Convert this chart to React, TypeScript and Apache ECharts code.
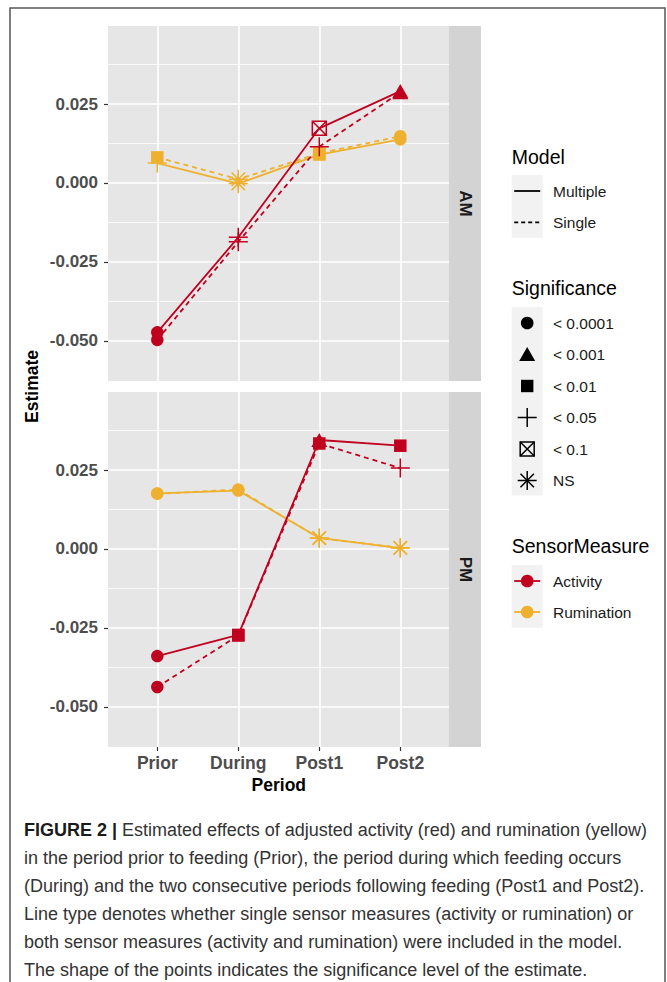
import React, { useEffect, useRef } from 'react';
import * as echarts from 'echarts';

// ---------- data ----------
const periods = ['Prior', 'During', 'Post1', 'Post2'];
const panels = ['AM', 'PM'];
const yTickValues = [-0.05, -0.025, 0, 0.025];
const sigLevels = ['< 0.0001', '< 0.001', '< 0.01', '< 0.05', '< 0.1', 'NS'];
const modelLevels = ['Multiple', 'Single'];
const measureLevels = ['Activity', 'Rumination'];

// AM panel
const amActivityMultiple = [-0.0473, -0.0172, 0.0173, 0.0291];
const amActivityMultipleSig = ['< 0.0001', '< 0.05', '< 0.1', '< 0.001'];
const amActivitySingle = [-0.0497, -0.0186, 0.0115, 0.0287];
const amActivitySingleSig = ['< 0.0001', '< 0.05', '< 0.05', '< 0.001'];
const amRuminationMultiple = [0.0063, -0.0002, 0.009, 0.0138];
const amRuminationMultipleSig = ['< 0.05', 'NS', '< 0.01', '< 0.0001'];
const amRuminationSingle = [0.0081, 0.0012, 0.0094, 0.0148];
const amRuminationSingleSig = ['< 0.01', 'NS', '< 0.01', '< 0.0001'];

// PM panel
const pmActivityMultiple = [-0.0339, -0.0272, 0.0345, 0.0327];
const pmActivityMultipleSig = ['< 0.0001', '< 0.01', '< 0.001', '< 0.01'];
const pmActivitySingle = [-0.0437, -0.0274, 0.0334, 0.0256];
const pmActivitySingleSig = ['< 0.0001', '< 0.01', '< 0.01', '< 0.05'];
const pmRuminationMultiple = [0.0176, 0.0185, 0.0035, 0.0003];
const pmRuminationMultipleSig = ['< 0.0001', '< 0.0001', 'NS', 'NS'];
const pmRuminationSingle = [0.0175, 0.0188, 0.0034, 0.0004];
const pmRuminationSingleSig = ['< 0.0001', '< 0.0001', 'NS', 'NS'];

const captionLines = [
  'Estimated effects of adjusted activity (red) and rumination (yellow)',
  'in the period prior to feeding (Prior), the period during which feeding occurs',
  '(During) and the two consecutive periods following feeding (Post1 and Post2).',
  'Line type denotes whether single sensor measures (activity or rumination) or',
  'both sensor measures (activity and rumination) were included in the model.',
  'The shape of the points indicates the significance level of the estimate.',
];
const captionLabel = 'FIGURE 2 |';

// ---------- styling / layout ----------
const RED = '#C0001F';
const YELLOW = '#EEB12F';
const PANEL_BG = '#E6E6E6';
const STRIP_BG = '#D3D3D3';
const FONT = '"Liberation Sans", Arial, sans-serif';
const Y_MIN = -0.0627;
const Y_MAX = 0.0497;
const PANEL_LEFT = 108;
const PANEL_W = 341;
const PANEL_H = 355;
const PANEL_TOPS = [26, 392];
const CAT_LEFT = 157.3;
const CAT_W = 243;
const STRIP_X = 449;
const STRIP_W = 32;

const SIG_STYLE: Record<string, { symbol: string; size: number | number[]; filled: boolean }> = {
  '< 0.0001': { symbol: 'circle', size: 12.5, filled: true },
  '< 0.001': { symbol: 'triangle', size: [16, 14], filled: true },
  '< 0.01': { symbol: 'rect', size: 12.5, filled: true },
  '< 0.05': { symbol: 'path://M0 9L18 9M9 0L9 18', size: 19, filled: false },
  '< 0.1': { symbol: 'path://M0 0L14 0L14 14L0 14ZM0 0L14 14M0 14L14 0', size: 14, filled: false },
  NS: {
    symbol: 'path://M0 9L18 9M9 0L9 18M2.64 2.64L15.36 15.36M2.64 15.36L15.36 2.64',
    size: 19,
    filled: false,
  },
};

function pointData(values: number[], sigs: string[], color: string) {
  return values.map((v, i) => {
    const s = SIG_STYLE[sigs[i]];
    return {
      value: [periods[i], v],
      symbol: s.symbol,
      symbolSize: s.size,
      itemStyle: s.filled
        ? { color, borderWidth: 0, opacity: 1 }
        : { color: 'rgba(0,0,0,0)', borderColor: color, borderWidth: 1.5, opacity: 1 },
    };
  });
}

type Trace = { panel: number; measure: string; model: string; values: number[]; sigs: string[] };
const traces: Trace[] = [
  { panel: 0, measure: 'Rumination', model: 'Single', values: amRuminationSingle, sigs: amRuminationSingleSig },
  { panel: 0, measure: 'Rumination', model: 'Multiple', values: amRuminationMultiple, sigs: amRuminationMultipleSig },
  { panel: 0, measure: 'Activity', model: 'Single', values: amActivitySingle, sigs: amActivitySingleSig },
  { panel: 0, measure: 'Activity', model: 'Multiple', values: amActivityMultiple, sigs: amActivityMultipleSig },
  { panel: 1, measure: 'Rumination', model: 'Single', values: pmRuminationSingle, sigs: pmRuminationSingleSig },
  { panel: 1, measure: 'Rumination', model: 'Multiple', values: pmRuminationMultiple, sigs: pmRuminationMultipleSig },
  { panel: 1, measure: 'Activity', model: 'Single', values: pmActivitySingle, sigs: pmActivitySingleSig },
  { panel: 1, measure: 'Activity', model: 'Multiple', values: pmActivityMultiple, sigs: pmActivityMultipleSig },
];

function buildOption() {
  const k = PANEL_H / (Y_MAX - Y_MIN);
  const grids: any[] = [];
  const xAxes: any[] = [];
  const yAxes: any[] = [];
  const hiddenValueX = (gi: number) => ({ type: 'value', gridIndex: gi, show: false, min: 0, max: 1 });

  PANEL_TOPS.forEach((top, p) => {
    const base = p * 4;
    // 0: background
    grids.push({ left: PANEL_LEFT, top, width: PANEL_W, height: PANEL_H, show: true, backgroundColor: PANEL_BG, borderWidth: 0 });
    xAxes.push(hiddenValueX(base));
    yAxes.push({ type: 'value', gridIndex: base, show: false, min: Y_MIN, max: Y_MAX });
    // 1: minor grid lines (0.0375, 0.0125, -0.0125, -0.0375)
    grids.push({ left: PANEL_LEFT, top: top + (Y_MAX - 0.0375) * k, width: PANEL_W, height: 0.075 * k, show: false });
    xAxes.push(hiddenValueX(base + 1));
    yAxes.push({
      type: 'value', gridIndex: base + 1, min: 0, max: 3, interval: 1,
      axisLine: { show: false }, axisTick: { show: false }, axisLabel: { show: false },
      splitLine: { show: true, showMinLine: true, showMaxLine: true, lineStyle: { color: '#FFFFFF', width: 0.8 } },
    });
    // 2: major grid lines + labels
    grids.push({ left: PANEL_LEFT, top: top + (Y_MAX - 0.025) * k, width: PANEL_W, height: 0.075 * k, show: false });
    xAxes.push(hiddenValueX(base + 2));
    yAxes.push({
      type: 'value', gridIndex: base + 2, min: yTickValues[0], max: yTickValues[yTickValues.length - 1], interval: 0.025,
      axisLine: { show: false },
      axisTick: { show: true, length: 4, lineStyle: { color: '#333333', width: 1.2 } },
      axisLabel: {
        show: true, margin: 10, color: '#4D4D4D', fontSize: 17, fontWeight: 'bold', fontFamily: FONT,
        formatter: (v: number) => v.toFixed(3),
      },
      splitLine: { show: true, showMinLine: true, showMaxLine: true, lineStyle: { color: '#FFFFFF', width: 1.6 } },
    });
    // 3: data grid
    grids.push({ left: CAT_LEFT, top, width: CAT_W, height: PANEL_H, show: false });
    xAxes.push({
      type: 'category', gridIndex: base + 3, data: periods, boundaryGap: false, position: 'bottom',
      axisLine: { show: false, onZero: false },
      axisTick: { show: p === 1, length: 4, interval: 0, lineStyle: { color: '#333333', width: 1.2 } },
      axisLabel: { show: p === 1, interval: 0, margin: 7, color: '#4D4D4D', fontSize: 17.5, fontWeight: 'bold', fontFamily: FONT },
      splitLine: { show: true, interval: 0, lineStyle: { color: '#FFFFFF', width: 1.6 } },
      name: p === 1 ? 'Period' : '',
      nameLocation: 'middle',
      nameGap: 29,
      nameTextStyle: { color: '#000000', fontSize: 17.5, fontWeight: 'bold', fontFamily: FONT },
    });
    yAxes.push({ type: 'value', gridIndex: base + 3, show: false, min: Y_MIN, max: Y_MAX });
  });

  const series: any[] = [];
  traces.forEach((t) => {
    const color = t.measure === 'Activity' ? RED : YELLOW;
    const ai = t.panel * 4 + 3;
    series.push({
      type: 'line', xAxisIndex: ai, yAxisIndex: ai, symbol: 'none', silent: true,
      data: t.values.map((v, i) => [periods[i], v]),
      lineStyle: { color, width: 1.8, type: t.model === 'Multiple' ? 'solid' : [5, 4] },
      z: 2,
    });
  });
  traces.forEach((t) => {
    const color = t.measure === 'Activity' ? RED : YELLOW;
    const ai = t.panel * 4 + 3;
    series.push({
      type: 'scatter', xAxisIndex: ai, yAxisIndex: ai, silent: true,
      itemStyle: { opacity: 1 },
      data: pointData(t.values, t.sigs, color),
      z: 3,
    });
  });

  // ---------- graphics: strips, titles, legend, caption, frame ----------
  const g: any[] = [];
  g.push({ type: 'rect', shape: { x: 10, y: 8, width: 655, height: 990 }, style: { fill: 'none', stroke: '#555555', lineWidth: 1.5 }, z: 0 });
  PANEL_TOPS.forEach((top, p) => {
    g.push({ type: 'rect', shape: { x: STRIP_X, y: top, width: STRIP_W, height: PANEL_H }, style: { fill: STRIP_BG } });
    g.push({
      type: 'text', x: STRIP_X + STRIP_W / 2, y: top + PANEL_H / 2, rotation: -Math.PI / 2,
      style: { text: panels[p], align: 'center', verticalAlign: 'middle', fill: '#1A1A1A', font: `bold 17px ${FONT}` },
    });
  });
  g.push({
    type: 'text', x: 32, y: (PANEL_TOPS[0] + PANEL_TOPS[1] + PANEL_H) / 2, rotation: Math.PI / 2,
    style: { text: 'Estimate', align: 'center', verticalAlign: 'middle', fill: '#000000', font: `bold 17.5px ${FONT}` },
  });

  // legend
  const LX = 511.7;
  const KCX = 527.2;
  const LABX = 553;
  const title = (txt: string, y: number) => ({
    type: 'text', x: LX, y, style: { text: txt, align: 'left', verticalAlign: 'middle', fill: '#000000', font: `19.5px ${FONT}` },
  });
  const label = (txt: string, y: number) => ({
    type: 'text', x: LABX, y, style: { text: txt, align: 'left', verticalAlign: 'middle', fill: '#1A1A1A', font: `15.5px ${FONT}` },
  });
  const keyBg = (y0: number, n: number) => ({
    type: 'rect', shape: { x: LX, y: y0, width: 31, height: n * 31.4 }, style: { fill: '#F2F2F2' },
  });

  // Model
  g.push(title('Model', 157));
  g.push(keyBg(175, 2));
  modelLevels.forEach((m, i) => {
    const y = 191 + i * 31.4;
    g.push({
      type: 'line', shape: { x1: LX + 2.5, y1: y, x2: LX + 28.5, y2: y },
      style: { stroke: '#000000', lineWidth: 1.8, lineDash: m === 'Multiple' ? null : [4, 3] },
    });
    g.push(label(m, y));
  });

  // Significance
  g.push(title('Significance', 288));
  g.push(keyBg(307, 6));
  sigLevels.forEach((s, i) => {
    const cy = 323 + i * 31.5;
    const cx = KCX;
    const st = { stroke: '#000000', lineWidth: 1.5 };
    if (s === '< 0.0001') g.push({ type: 'circle', shape: { cx, cy, r: 6.3 }, style: { fill: '#000000' } });
    if (s === '< 0.001') g.push({ type: 'polygon', shape: { points: [[cx, cy - 7.5], [cx + 8, cy + 6.5], [cx - 8, cy + 6.5]] }, style: { fill: '#000000' } });
    if (s === '< 0.01') g.push({ type: 'rect', shape: { x: cx - 6.2, y: cy - 6.2, width: 12.4, height: 12.4 }, style: { fill: '#000000' } });
    if (s === '< 0.05') {
      g.push({ type: 'line', shape: { x1: cx - 9.5, y1: cy, x2: cx + 9.5, y2: cy }, style: st });
      g.push({ type: 'line', shape: { x1: cx, y1: cy - 9.5, x2: cx, y2: cy + 9.5 }, style: st });
    }
    if (s === '< 0.1') {
      g.push({ type: 'rect', shape: { x: cx - 7, y: cy - 7, width: 14, height: 14 }, style: { fill: 'none', ...st } });
      g.push({ type: 'line', shape: { x1: cx - 7, y1: cy - 7, x2: cx + 7, y2: cy + 7 }, style: st });
      g.push({ type: 'line', shape: { x1: cx - 7, y1: cy + 7, x2: cx + 7, y2: cy - 7 }, style: st });
    }
    if (s === 'NS') {
      const r = 9.5;
      const d = r * 0.707;
      g.push({ type: 'line', shape: { x1: cx - r, y1: cy, x2: cx + r, y2: cy }, style: st });
      g.push({ type: 'line', shape: { x1: cx, y1: cy - r, x2: cx, y2: cy + r }, style: st });
      g.push({ type: 'line', shape: { x1: cx - d, y1: cy - d, x2: cx + d, y2: cy + d }, style: st });
      g.push({ type: 'line', shape: { x1: cx - d, y1: cy + d, x2: cx + d, y2: cy - d }, style: st });
    }
    g.push(label(s, cy));
  });

  // SensorMeasure
  g.push(title('SensorMeasure', 546));
  g.push(keyBg(565, 2));
  measureLevels.forEach((m, i) => {
    const y = 581 + i * 31;
    const c = m === 'Activity' ? RED : YELLOW;
    g.push({ type: 'line', shape: { x1: LX + 2.5, y1: y, x2: LX + 28.5, y2: y }, style: { stroke: c, lineWidth: 1.8 } });
    g.push({ type: 'circle', shape: { cx: KCX, cy: y, r: 6.3 }, style: { fill: c } });
    g.push(label(m, y));
  });

  // caption
  captionLines.forEach((line, i) => {
    g.push({
      type: 'text', x: 24, y: 830 + i * 28,
      style: {
        text: i === 0 ? `{b|${captionLabel}} ${line}` : line,
        align: 'left', verticalAlign: 'middle', fill: '#333333', font: `18px ${FONT}`,
        rich: { b: { fontWeight: 'bold', fontSize: 18, fontFamily: FONT, fill: '#1A1A1A' } },
      },
    });
  });

  return {
    animation: false,
    backgroundColor: '#FFFFFF',
    textStyle: { fontFamily: FONT },
    grid: grids,
    xAxis: xAxes,
    yAxis: yAxes,
    series,
    graphic: g,
  };
}

export default function App() {
  const ref = useRef<HTMLDivElement>(null);
  useEffect(() => {
    document.body.style.margin = '0';
    if (!ref.current) return;
    const chart = echarts.init(ref.current, undefined, { renderer: 'svg' });
    chart.setOption(buildOption() as any);
    return () => chart.dispose();
  }, []);
  return <div ref={ref} style={{ position: 'absolute', left: 0, top: 0, width: 667, height: 982 }} />;
}
